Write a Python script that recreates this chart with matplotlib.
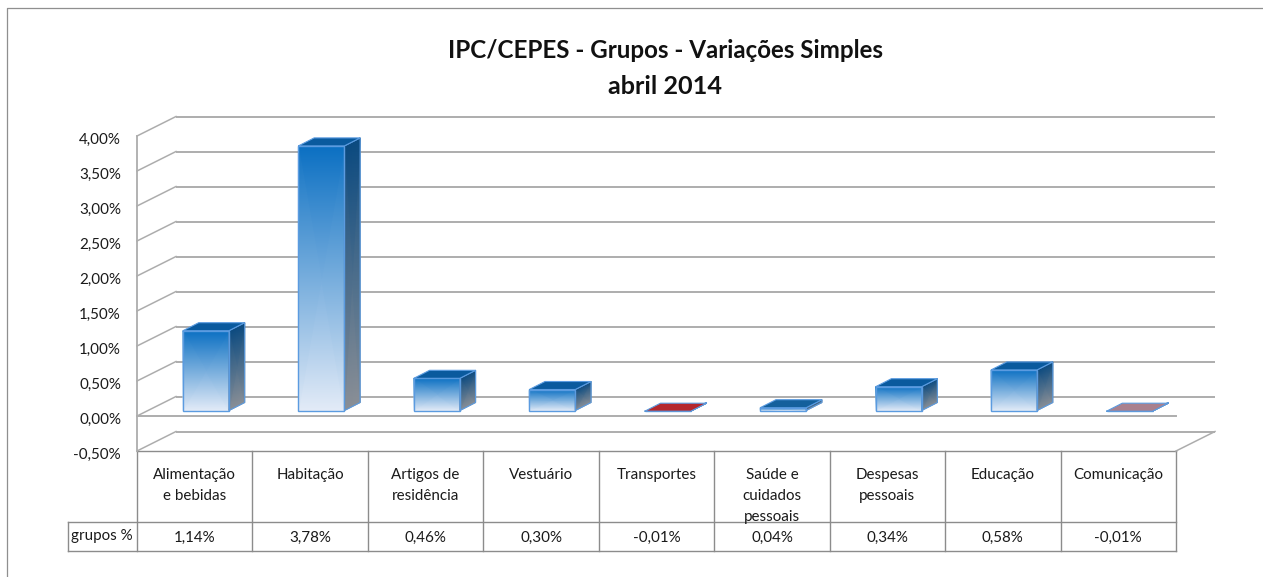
import numpy as np
import matplotlib
matplotlib.use("Agg")
import matplotlib.pyplot as plt
from matplotlib.colors import LinearSegmentedColormap
from matplotlib.patches import Polygon
from matplotlib.transforms import ScaledTranslation

# === DATA ===
categories = ["Alimentação\ne bebidas", "Habitação", "Artigos de\nresidência", "Vestuário",
              "Transportes", "Saúde e\ncuidados\npessoais", "Despesas\npessoais", "Educação", "Comunicação"]
values = [1.14, 3.78, 0.46, 0.30, -0.01, 0.04, 0.34, 0.58, -0.01]
value_labels = ["1,14%", "3,78%", "0,46%", "0,30%", "-0,01%", "0,04%", "0,34%", "0,58%", "-0,01%"]
top_colors = ["#0a5a9e", "#0a5a9e", "#0a5a9e", "#0a5a9e", "#b5272d", "#14609c", "#0a5a9e", "#0a5a9e", "#a9808e"]
y_ticks = [-0.5, 0, 0.5, 1, 1.5, 2, 2.5, 3, 3.5, 4]
title_lines = ["IPC/CEPES - Grupos - Variações Simples", "abril 2014"]

# === LAYOUT (pixels of the 1263x577 picture) ===
W, H = 1263, 577
LEFT, RIGHT, TOP, BOTTOM = 137, 1176, 136, 451
CAT_W = (RIGHT - LEFT) / 9
PCT_H = (BOTTOM - TOP) / 4.5

WALL_DX = 39 / CAT_W
WALL_DY = 19.5 / PCT_H
BAR_LEFT = 46 / CAT_W
BAR_W = 46 / CAT_W
BAR_BASE = 5.5 / PCT_H
BAR_DX = 15.7 / CAT_W
BAR_DY = 8 / PCT_H

GRID = "#adadad"
TABLE = "#8c8c8c"
EDGE = "#5b9be0"
TEXT = "#1a1a1a"
FS = 10.9

plt.rcParams["font.family"] = ["Lato", "DejaVu Sans"]

front_cmap = LinearSegmentedColormap.from_list("front", ["#e3ebf7", "#0a6fc2"])
side_cmap = LinearSegmentedColormap.from_list("side", ["#8a8f96", "#0b4a80"])

fig = plt.figure(figsize=(W / 100, H / 100), dpi=100)

# === BACKGROUND LAYER IN PIXELS: frame, title, table ===
bg = fig.add_axes([0, 0, 1, 1])
bg.set_xlim(0, W)
bg.set_ylim(H, 0)
bg.axis("off")

bg.plot([7, 7, W], [H, 8, 8], color="#8f8f8f", lw=0.9)
bg.text(665.5, 50, title_lines[0], ha="center", va="center", fontsize=17.4, fontweight="bold", color="#111111")
bg.text(665, 86, title_lines[1], ha="center", va="center", fontsize=18.2, fontweight="bold", color="#111111")

ROW1, ROW2 = 522, 551
for i in range(10):
    x = LEFT + i * CAT_W
    bg.plot([x, x], [BOTTOM, ROW2], color=TABLE, lw=1.0)
bg.plot([LEFT, RIGHT], [BOTTOM, BOTTOM], color=TABLE, lw=1.0)
bg.plot([68, RIGHT], [ROW1, ROW1], color=TABLE, lw=1.0)
bg.plot([68, RIGHT], [ROW2, ROW2], color=TABLE, lw=1.0)
bg.plot([68, 68], [ROW1, ROW2], color=TABLE, lw=1.0)
bg.text(102, 536, "grupos %", ha="center", va="center", fontsize=FS, color=TEXT)
for i, (cat, lab) in enumerate(zip(categories, value_labels)):
    xc = LEFT + (i + 0.5) * CAT_W
    bg.text(xc, 468, cat, ha="center", va="top", fontsize=FS, color=TEXT, linespacing=1.62)
    bg.text(xc, 537.5, lab, ha="center", va="center", fontsize=FS, color=TEXT)

# === CHART AXES: x in categories, y in percent ===
ax = fig.add_axes([LEFT / W, 1 - BOTTOM / H, (RIGHT - LEFT) / W, (BOTTOM - TOP) / H])
ax.set_xlim(0, 9)
ax.set_ylim(-0.5, 4)
ax.patch.set_visible(False)
for s in ax.spines.values():
    s.set_visible(False)
ax.set_xticks([])
ax.set_yticks(y_ticks)
ax.set_yticklabels([f"{t:.2f}%".replace(".", ",") for t in y_ticks], fontsize=FS, color=TEXT)
ax.tick_params(axis="y", length=0, pad=11.5)
# labels sit a little under their tick
shift = ScaledTranslation(0, -2 / 100, fig.dpi_scale_trans)
for lbl in ax.get_yticklabels():
    lbl.set_transform(lbl.get_transform() + shift)

# walls
ax.plot([0, 0], [-0.5, 4], color=GRID, lw=1.3, clip_on=False)
for t in y_ticks:
    ax.plot([0, WALL_DX], [t, t + WALL_DY], color=GRID, lw=1.1, clip_on=False)
    ax.plot([WALL_DX, 9 + WALL_DX], [t + WALL_DY, t + WALL_DY], color=GRID, lw=1.4, clip_on=False, solid_capstyle="butt")
ax.plot([0, 9], [0, 0], color=GRID, lw=1.4, clip_on=False, zorder=2)
ax.plot([9, 9 + WALL_DX], [-0.5, -0.5 + WALL_DY], color=GRID, lw=1.1, clip_on=False)

# bars
for i, v in enumerate(values):
    x0 = i + BAR_LEFT
    x1 = x0 + BAR_W
    y0 = BAR_BASE
    y1 = BAR_BASE + v

    # front face
    ax.pcolormesh([[x0, x1], [x0, x1]], [[y0, y0], [y1, y1]], [[0, 0], [1, 1]],
                  cmap=front_cmap, vmin=0, vmax=1, shading="gouraud", zorder=3, clip_on=False)
    ax.add_patch(Polygon([(x0, y0), (x1, y0), (x1, y1), (x0, y1)], closed=True, fill=False,
                         ec=EDGE, lw=1.0, zorder=4, clip_on=False))
    # side face
    ax.pcolormesh([[x1, x1 + BAR_DX], [x1, x1 + BAR_DX]],
                  [[y0, y0 + BAR_DY], [y1, y1 + BAR_DY]], [[0, 0], [1, 1]],
                  cmap=side_cmap, vmin=0, vmax=1, shading="gouraud", zorder=3, clip_on=False)
    ax.add_patch(Polygon([(x1, y0), (x1 + BAR_DX, y0 + BAR_DY), (x1 + BAR_DX, y1 + BAR_DY), (x1, y1)],
                         closed=True, fill=False, ec=EDGE, lw=0.8, zorder=4, clip_on=False))
    # top face
    ax.add_patch(Polygon([(x0, y1), (x1, y1), (x1 + BAR_DX, y1 + BAR_DY), (x0 + BAR_DX, y1 + BAR_DY)],
                         closed=True, fc=top_colors[i], ec=EDGE, lw=0.8, zorder=5, clip_on=False))

fig.savefig("out.png", dpi=100)
